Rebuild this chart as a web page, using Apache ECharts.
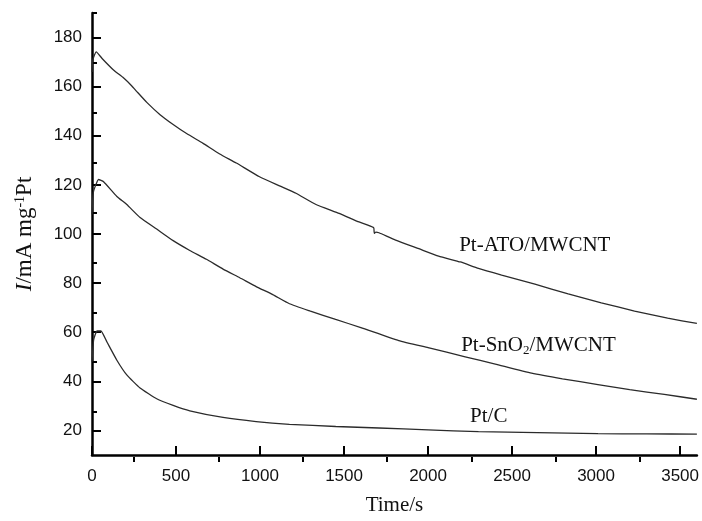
<!DOCTYPE html>
<html>
<head>
<meta charset="utf-8">
<script src="https://cdn.jsdelivr.net/npm/echarts@6/dist/echarts.min.js"></script>
<style>
  html, body { margin: 0; padding: 0; background: #fff; }
  #echarts { width: 702px; height: 521px; }
</style>
</head>
<body>
<div id="echarts"></div>
<script>
// tick values
var xMajor = [0, 500, 1000, 1500, 2000, 2500, 3000, 3500];
var xMinor = [250, 750, 1250, 1750, 2250, 2750, 3250];
var yMajor = [20, 40, 60, 80, 100, 120, 140, 160, 180];
var yMinor = [30, 50, 70, 90, 110, 130, 150, 170, 190];

// Pt-ATO/MWCNT
var atoTime = [0, 5, 25, 60, 128, 187, 237, 267, 326, 405, 483, 563, 661, 760, 859, 997, 1116, 1214, 1333, 1471, 1589, 1676, 1680, 1690, 1708, 1807, 1945, 2063, 2192, 2300, 2438, 2636, 2834, 3031, 3229, 3426, 3600];
var atoCurrent = [166, 171, 174.2, 171.5, 166.8, 163.6, 160.3, 158, 153.6, 148.6, 144.6, 140.9, 136.9, 132.6, 128.9, 123.3, 119.6, 116.6, 112, 108.4, 104.9, 102.6, 100.3, 100.8, 100.5, 97.5, 94, 91, 88.6, 86, 83.3, 79.6, 75.6, 72, 68.6, 65.7, 63.6];

// Pt-SnO2/MWCNT
var snTime = [0, 8, 39, 69, 148, 207, 286, 385, 483, 582, 681, 780, 879, 977, 1076, 1175, 1300, 1450, 1600, 1826, 2000, 2221, 2400, 2616, 2800, 3011, 3200, 3406, 3600];
var snCurrent = [108, 117, 122.2, 121.3, 115.3, 112, 106.7, 102, 97.3, 93.3, 89.7, 85.7, 82.2, 78.6, 75.3, 71.6, 68.6, 65.2, 61.9, 56.6, 53.7, 50, 47, 43.3, 41, 38.7, 36.6, 34.7, 32.7];

// Pt/C
var ptcTime = [0, 10, 30, 53, 89, 148, 207, 286, 385, 483, 582, 780, 977, 1175, 1451, 1708, 2000, 2300, 2650, 3011, 3300, 3600];
var ptcCurrent = [48, 57, 60.5, 60.5, 56, 48.6, 42.6, 37.3, 32.9, 30.2, 28, 25.3, 23.6, 22.5, 21.6, 21, 20.2, 19.5, 19.1, 18.7, 18.6, 18.5];

function pairs(t, v) {
    var out = [];
    for (var i = 0; i < t.length; i++) out.push([t[i], v[i]]);
    return out;
}

var myChart = echarts.init(document.getElementById('echarts'));

var serif = 'Liberation Serif';
var sans = 'Liberation Sans';

function curveLabel(coord, text) {
    return {
        symbol: 'circle',
        symbolSize: 1,
        itemStyle: { color: 'rgba(0,0,0,0)' },
        data: [{ coord: coord }],
        label: {
            show: true,
            formatter: text,
            position: [0, 0],
            align: 'left',
            verticalAlign: 'middle',
            fontFamily: serif,
            fontSize: 21,
            color: '#111',
            rich: {
                sub: { fontFamily: serif, fontSize: 13, color: '#111', verticalAlign: 'bottom', padding: [10, 0, 0, 0] }
            }
        }
    };
}

var lineStyle = { color: '#2b2b2b', width: 1.3 };
var noComma = function (v) { return String(v); };

option = {
    backgroundColor: '#fff',
    animation: false,
    grid: [
        { left: 92, right: 3, top: 13, bottom: 59 },
        { left: 92, right: 3, top: 13, bottom: 59 }   // only for minor ticks
    ],
    xAxis: [
        {
            type: 'value', gridIndex: 0, min: 0, max: 3600,
            axisLine: { show: true, lineStyle: { color: '#000', width: 2.5 } },
            axisTick: { show: true, inside: true, length: 9, customValues: xMajor, lineStyle: { color: '#000', width: 2 } },
            axisLabel: { customValues: xMajor, formatter: noComma, fontFamily: sans, fontSize: 17, color: '#111', margin: 13 },
            splitLine: { show: false },
            name: 'Time/s', nameLocation: 'middle', nameGap: 40,
            nameTextStyle: { fontFamily: serif, fontSize: 21, color: '#111' }
        },
        {
            type: 'value', gridIndex: 1, min: 0, max: 3600, position: 'bottom',
            axisLine: { show: true, lineStyle: { color: 'rgba(0,0,0,0)', width: 0 } },
            axisTick: { show: true, inside: true, length: 5, customValues: xMinor, lineStyle: { color: '#000', width: 2 } },
            axisLabel: { show: false },
            splitLine: { show: false }
        }
    ],
    yAxis: [
        {
            type: 'value', gridIndex: 0, min: 10, max: 190,
            axisLine: { show: true, lineStyle: { color: '#000', width: 2.5 } },
            axisTick: { show: true, inside: true, length: 9, customValues: yMajor, lineStyle: { color: '#000', width: 2 } },
            axisLabel: { customValues: yMajor, formatter: noComma, fontFamily: sans, fontSize: 17, color: '#111', margin: 10 },
            splitLine: { show: false },
            name: '{it|I}/mA mg{sup|-1}Pt', nameLocation: 'middle', nameGap: 56,
            nameTextStyle: {
                fontFamily: serif, fontSize: 23, color: '#111',
                rich: {
                    it: { fontFamily: serif, fontStyle: 'italic', fontSize: 23, color: '#111' },
                    sup: { fontFamily: serif, fontSize: 14, color: '#111', verticalAlign: 'top' }
                }
            }
        },
        {
            type: 'value', gridIndex: 1, min: 10, max: 190, position: 'left',
            axisLine: { show: true, lineStyle: { color: 'rgba(0,0,0,0)', width: 0 } },
            axisTick: { show: true, inside: true, length: 5, customValues: yMinor, lineStyle: { color: '#000', width: 2 } },
            axisLabel: { show: false },
            splitLine: { show: false }
        }
    ],
    series: [
        {
            name: 'Pt-ATO/MWCNT', type: 'line', xAxisIndex: 0, yAxisIndex: 0,
            showSymbol: false, smooth: 0.15, lineStyle: lineStyle,
            data: pairs(atoTime, atoCurrent),
            markPoint: curveLabel([2188, 95.3], 'Pt-ATO/MWCNT')
        },
        {
            name: 'Pt-SnO2/MWCNT', type: 'line', xAxisIndex: 0, yAxisIndex: 0,
            showSymbol: false, smooth: 0.15, lineStyle: lineStyle,
            data: pairs(snTime, snCurrent),
            markPoint: curveLabel([2200, 54.5], 'Pt-SnO{sub|2}/MWCNT')
        },
        {
            name: 'Pt/C', type: 'line', xAxisIndex: 0, yAxisIndex: 0,
            showSymbol: false, smooth: 0.15, lineStyle: lineStyle,
            data: pairs(ptcTime, ptcCurrent),
            markPoint: curveLabel([2253, 25.6], 'Pt/C')
        },
        {
            // empty series so the minor-tick grid is laid out
            name: 'ticks', type: 'line', xAxisIndex: 1, yAxisIndex: 1,
            showSymbol: false, silent: true, data: []
        }
    ]
};

myChart.setOption(option);
</script>
</body>
</html>
